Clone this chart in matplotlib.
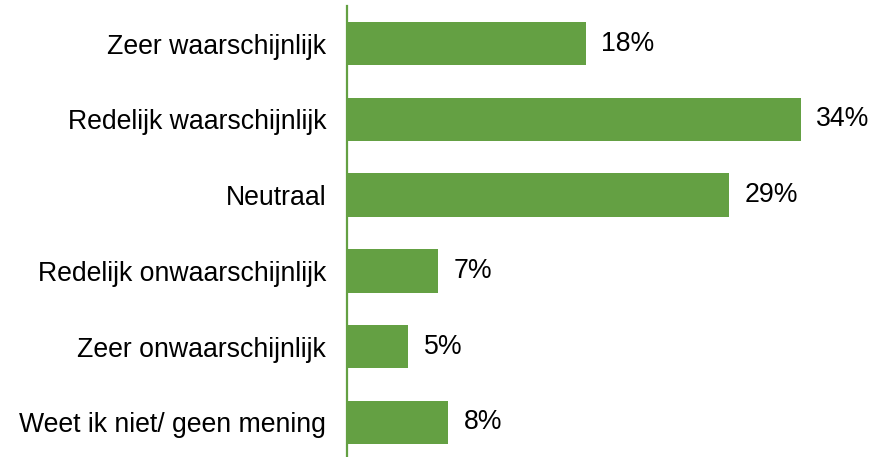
import matplotlib
matplotlib.use("Agg")
import matplotlib.pyplot as plt

categories = ["Zeer waarschijnlijk", "Redelijk waarschijnlijk", "Neutraal",
              "Redelijk onwaarschijnlijk", "Zeer onwaarschijnlijk", "Weet ik niet/ geen mening"]
values = [17.9, 34.0, 28.6, 6.8, 4.6, 7.6]
labels = ["18%", "34%", "29%", "7%", "5%", "8%"]

color = "#64A043"
plt.rcParams['font.family'] = ['Liberation Sans', 'DejaVu Sans']
fs = 19.2

fig = plt.figure(figsize=(8.72, 4.57), dpi=100)
top_px, bot_px = 5.6, 460.4
ax = fig.add_axes([347/872, 1 - bot_px/457, 1 - 347/872, (bot_px - top_px)/457])
y = list(range(len(categories)))
ax.barh(y, values, height=0.57, color=color)
ax.set_ylim(len(categories) - 0.5, -0.5)
ax.set_xlim(0, (872 - 347) / ((801 - 347) / 34.0))
for yi, v, lab in zip(y, values, labels):
    ax.text(v + 1.15, yi, lab, va='center', ha='left', fontsize=fs, color='black')
ax.set_yticks(y)
ax.set_yticklabels(categories, fontsize=fs)
ax.tick_params(axis='y', length=0, pad=15)
ax.set_xticks([])
for s in ['top', 'right', 'bottom']:
    ax.spines[s].set_visible(False)
ax.spines['left'].set_color(color)
ax.spines['left'].set_linewidth(1.6)
fig.savefig("out.png", dpi=100)
